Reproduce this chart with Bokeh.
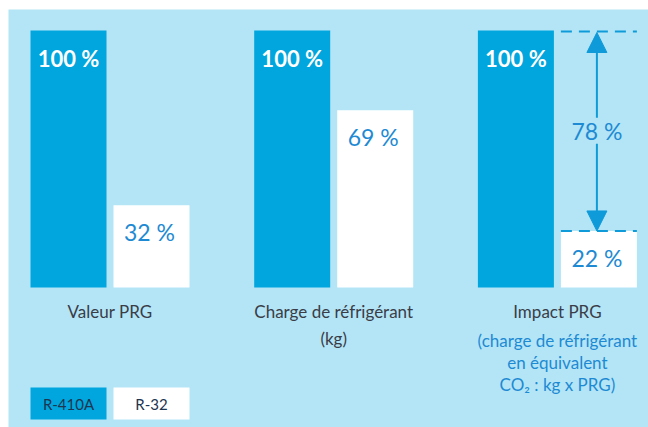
from bokeh.plotting import figure
from bokeh.models import Range1d, ColumnDataSource, Arrow, NormalHead
from bokeh.embed import file_html
from bokeh.resources import INLINE
from bokeh.core.properties import value

# ---------------- data ----------------
categories = ["Valeur PRG", "Charge de réfrigérant", "Impact PRG"]
sub_dark = ["", "(kg)", ""]
sub_blue = [[], [], ["(charge de réfrigérant", "en équivalent", "CO₂ : kg x PRG)"]]
series = ["R-410A", "R-32"]
r410a = [100, 100, 100]
r32 = [32, 69, 22]

# ---------------- layout ----------------
PAGE_W, PAGE_H = 648, 427
ML, MT = 8, 9
W, H = PAGE_W - ML, PAGE_H - MT   # frame size
PX = 2.57            # pixels per percent unit
GROUP = 223.7        # pixels per category
BASE_PX = 278        # bar base, pixels from frame top
X0_PX = 101.5        # first group centre, pixels from frame left
BAR_W = 76 / GROUP
OFF = 41.5 / GROUP

y_start = -(H - BASE_PX) / PX
y_end = y_start + H / PX

def below(px):
    return -px / PX

FONT = value("Lato")
BG = "#b3e5f6"
BLUE = "#00a6dd"
TXT_BLUE = "#1e8ad3"
LINE_BLUE = "#0f9bd9"
DARK = "#3a3d48"

p = figure(width=PAGE_W, height=PAGE_H, output_backend="svg", toolbar_location=None,
           x_range=Range1d(-X0_PX / GROUP, (W - X0_PX) / GROUP),
           y_range=Range1d(y_start, y_end),
           min_border_left=ML, min_border_top=MT, min_border_right=0, min_border_bottom=0)
p.background_fill_color = BG
p.border_fill_color = "white"
p.outline_line_color = None
p.xaxis.visible = False
p.yaxis.visible = False
p.xgrid.grid_line_color = None
p.ygrid.grid_line_color = None

idx = list(range(len(categories)))
x_a = [i - OFF for i in idx]
x_b = [i + OFF for i in idx]

src_a = ColumnDataSource(dict(x=x_a, top=r410a))
src_b = ColumnDataSource(dict(x=x_b, top=r32))

p.vbar(x="x", top="top", bottom=0, width=BAR_W, source=src_a, fill_color=BLUE, line_color=None)
p.vbar(x="x", top="top", bottom=0, width=BAR_W, source=src_b, fill_color="white", line_color=None)

# value labels
ya = [v - 28 / PX for v in r410a]
yb = [v - 27 / PX for v in r32]
p.text(x=x_a, y=ya, text=[f"{v} %" for v in r410a], text_font=FONT, text_font_size="22px",
       text_font_style="bold", text_color="white", text_align="center", text_baseline="middle")
p.text(x=[x - 2 / GROUP for x in x_b], y=yb, text=[f"{v} %" for v in r32], text_font=FONT,
       text_font_size="23px", text_color=TXT_BLUE, text_align="center", text_baseline="middle")

# reduction arrow on last category
last = len(categories) - 1
xr = x_b[last]
hi, lo = r410a[last], r32[last]
diff = hi - lo
mid = (hi + lo) / 2
gap = 13 / PX
p.segment(x0=[xr - BAR_W / 2, xr - BAR_W / 2], x1=[xr + BAR_W / 2, xr + BAR_W / 2],
          y0=[hi - 1 / PX, lo], y1=[hi - 1 / PX, lo], line_color=LINE_BLUE, line_width=2,
          line_dash="11 7")
xa = xr - 2 / GROUP
p.add_layout(Arrow(x_start=xa, y_start=mid + gap, x_end=xa, y_end=hi - 2 / PX,
                   line_color=LINE_BLUE, line_width=2,
                   end=NormalHead(size=20, fill_color=LINE_BLUE, line_color=LINE_BLUE)))
p.add_layout(Arrow(x_start=xa, y_start=mid - gap, x_end=xa, y_end=lo,
                   line_color=LINE_BLUE, line_width=2,
                   end=NormalHead(size=20, fill_color=LINE_BLUE, line_color=LINE_BLUE)))
p.text(x=[xa], y=[mid], text=[f"{diff} %"], text_font=FONT, text_font_size="23px",
       text_color=TXT_BLUE, text_align="center", text_baseline="middle")

# category labels
p.text(x=idx, y=[below(24)] * 3, text=categories, text_font=FONT, text_font_size="17px",
       text_color=DARK, text_align="center", text_baseline="middle")
p.text(x=idx, y=[below(51)] * 3, text=sub_dark, text_font=FONT, text_font_size="17px",
       text_color=DARK, text_align="center", text_baseline="middle")
bx, by, bt = [], [], []
for i, lines in enumerate(sub_blue):
    for k, t in enumerate(lines):
        bx.append(i)
        by.append(below(53 + 22 * k))
        bt.append(t)
p.text(x=bx, y=by, text=bt, text_font=FONT, text_font_size="17px",
       text_color=TXT_BLUE, text_align="center", text_baseline="middle")

# legend boxes
leg_top, leg_bot = below(100), below(132)
p.vbar(x=[x_a[0], x_b[0]], top=leg_top, bottom=leg_bot, width=BAR_W,
       fill_color=[BLUE, "white"], line_color=None)
p.text(x=[x_a[0], x_b[0]], y=[(leg_top + leg_bot) / 2] * 2, text=series, text_font=FONT,
       text_font_size="15px", text_color="#1d3550", text_align="center", text_baseline="middle")

open("out.html", "w").write(file_html(p, INLINE))
